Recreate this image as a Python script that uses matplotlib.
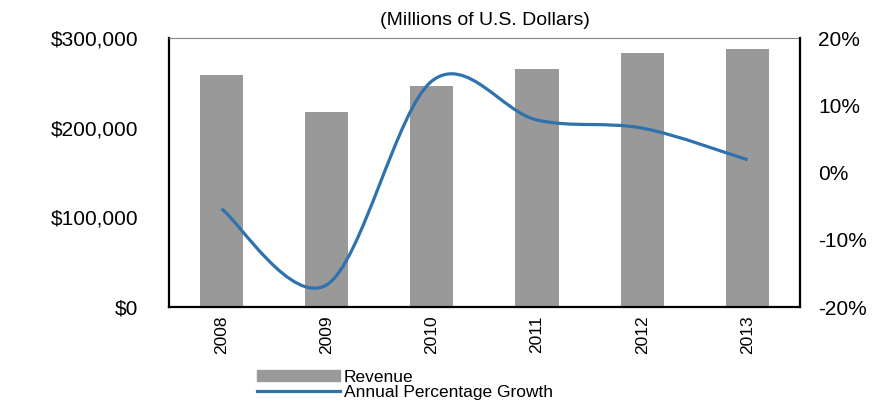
import matplotlib.pyplot as plt
import numpy as np
from matplotlib.path import Path
from matplotlib.patches import PathPatch
from matplotlib.lines import Line2D
from matplotlib.ticker import FuncFormatter

years = ['2008', '2009', '2010', '2011', '2012', '2013']
revenue = [258700, 217500, 246500, 265400, 283300, 287700]
growth = [-5.4, -16.7, 13.6, 7.8, 6.6, 1.9]

bar_color = '#999999'
line_color = '#2f72ad'

plt.rcParams['font.family'] = ['Liberation Sans', 'DejaVu Sans']

fig = plt.figure(figsize=(8.95, 4.03), dpi=100)
ax = fig.add_axes([0.1888, 0.2382, 0.705, 0.6675])
x = np.arange(len(years))
ax.bar(x, revenue, width=0.41, color=bar_color, zorder=2)
ax.set_xlim(-0.5, len(years) - 0.5)
ax.set_ylim(0, 300000)
ax.set_yticks([0, 100000, 200000, 300000])
ax.yaxis.set_major_formatter(FuncFormatter(lambda v, p: f'${int(v):,}'))
ax.set_xticks(x)
ax.set_xticklabels(years, rotation=90)
ax.tick_params(axis='y', length=0, labelsize=15, pad=22)
ax.tick_params(axis='x', length=0, labelsize=12.5, pad=6)
for s in ['left', 'bottom']:
    ax.spines[s].set_linewidth(1.6)
    ax.spines[s].set_color('black')
ax.spines['top'].set_color('#888888')
ax.spines['top'].set_linewidth(0.8)
ax.spines['right'].set_visible(False)

ax2 = ax.twinx()
ax2.set_ylim(-20, 20)
ax2.set_yticks([-20, -10, 0, 10, 20])
ax2.yaxis.set_major_formatter(FuncFormatter(lambda v, p: f'{int(v)}%'))
ax2.tick_params(axis='y', length=0, labelsize=15, pad=13)
for s in ['left', 'top', 'bottom']:
    ax2.spines[s].set_visible(False)
ax2.spines['right'].set_linewidth(1.6)
ax2.spines['right'].set_color('black')

# smoothed line (Catmull-Rom style bezier through the data points)
pts = np.column_stack([x, growth]).astype(float)
ext = np.vstack([pts[0], pts, pts[-1]])
verts = [tuple(pts[0])]
codes = [Path.MOVETO]
for i in range(len(pts) - 1):
    p0, p1, p2, p3 = ext[i], ext[i + 1], ext[i + 2], ext[i + 3]
    c1 = p1 + (p2 - p0) / 6
    c2 = p2 - (p3 - p1) / 6
    verts += [tuple(c1), tuple(c2), tuple(p2)]
    codes += [Path.CURVE4] * 3
ax2.add_patch(PathPatch(Path(verts, codes), facecolor='none',
                        edgecolor=line_color, lw=2.3, zorder=3))

fig.text(0.5413, 0.948, '(Millions of U.S. Dollars)', ha='center',
         va='center', fontsize=14)

handles = [plt.Rectangle((0, 0), 1, 1, color=bar_color),
           Line2D([0], [0], color=line_color, lw=2.3)]
fig.legend(handles, ['Revenue', 'Annual Percentage Growth'],
           loc='upper left', bbox_to_anchor=(0.287, 0.082), frameon=False,
           fontsize=12.5, handlelength=4.8, handleheight=0.6,
           labelspacing=0.0, handletextpad=0.2, borderpad=0,
           borderaxespad=0)

fig.savefig('out.png', dpi=100)
